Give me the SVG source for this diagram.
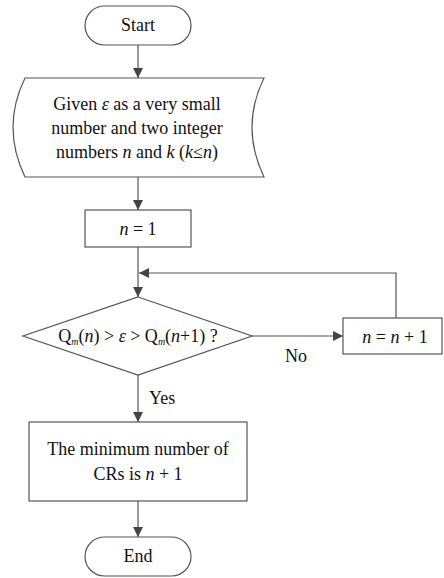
<svg xmlns="http://www.w3.org/2000/svg" width="444" height="578" viewBox="0 0 444 578" font-family="Liberation Serif, Tinos, Noto Serif, DejaVu Serif, serif">
<style>
.s{fill:#fff;stroke:#555;stroke-width:1.2}
.c{fill:none;stroke:#555;stroke-width:1.2}
text{font-family:'Liberation Serif',Tinos,'Times New Roman','Noto Serif','DejaVu Serif',serif;fill:#111;font-size:18px}
.m{text-anchor:middle}
.i{font-style:italic}
</style>
<defs>
<marker id="a" markerUnits="userSpaceOnUse" markerWidth="10" markerHeight="10" refX="10" refY="5" orient="auto">
<path d="M0,0 L10,5 L0,10 Z" fill="#444"/>
</marker>
</defs>
<g id="connectors">
<path class="c" d="M138,45 V78" marker-end="url(#a)"/>
<path class="c" d="M138,177 V210" marker-end="url(#a)"/>
<path class="c" d="M138,247 V297" marker-end="url(#a)"/>
<path class="c" d="M252,336 H343" marker-end="url(#a)"/>
<path class="c" d="M396,318 V273 H139" marker-end="url(#a)"/>
<path class="c" d="M138,375 V422" marker-end="url(#a)"/>
<path class="c" d="M138,501 V537" marker-end="url(#a)"/>
<text x="285" y="362" font-size="17">No</text>
<text x="149" y="404" font-size="17">Yes</text>
</g>
<g id="start">
<rect class="s" x="85" y="6" width="106" height="39" rx="19.5"/>
<text class="m" x="138" y="31">Start</text>
</g>
<g id="input">
<path class="s" d="M25,78 L264,78 Q240,127 264,177 L25,177 Q1,127 25,78 Z"/>
<text class="m" x="137" y="110" font-size="18.5">Given <tspan class="i">ε</tspan> as a very small</text>
<text class="m" x="137" y="134" font-size="18.5">number and two integer</text>
<text class="m" x="137" y="158" font-size="18.5">numbers <tspan class="i">n</tspan> and <tspan class="i">k</tspan> (<tspan class="i">k</tspan>≤<tspan class="i">n</tspan>)</text>
</g>
<g id="init">
<rect class="s" x="85" y="210" width="106" height="37"/>
<text class="m" x="138" y="235"><tspan class="i">n</tspan> = 1</text>
</g>
<g id="decision">
<path class="s" d="M138,297 L252,336 L138,375 L23,336 Z"/>
<text class="m" x="138" y="342" font-size="16">Q<tspan class="i" font-size="10" dy="3">m</tspan><tspan dy="-3">(</tspan><tspan class="i">n</tspan>) &gt; <tspan class="i">ε</tspan> &gt; Q<tspan class="i" font-size="10" dy="3">m</tspan><tspan dy="-3">(</tspan><tspan class="i">n</tspan>+1) ?</text>
</g>
<g id="increment">
<rect class="s" x="343" y="318" width="99" height="36"/>
<text class="m" x="395" y="343"><tspan class="i">n</tspan> = <tspan class="i">n</tspan> + 1</text>
</g>
<g id="result">
<rect class="s" x="29" y="422" width="218" height="79"/>
<text class="m" x="138" y="455" font-size="21.5">The minimum number of</text>
<text class="m" x="138" y="480" font-size="21.5">CRs is <tspan class="i">n</tspan> + 1</text>
</g>
<g id="end">
<rect class="s" x="85" y="537" width="106" height="39" rx="19.5"/>
<text class="m" x="138" y="562">End</text>
</g>
</svg>
